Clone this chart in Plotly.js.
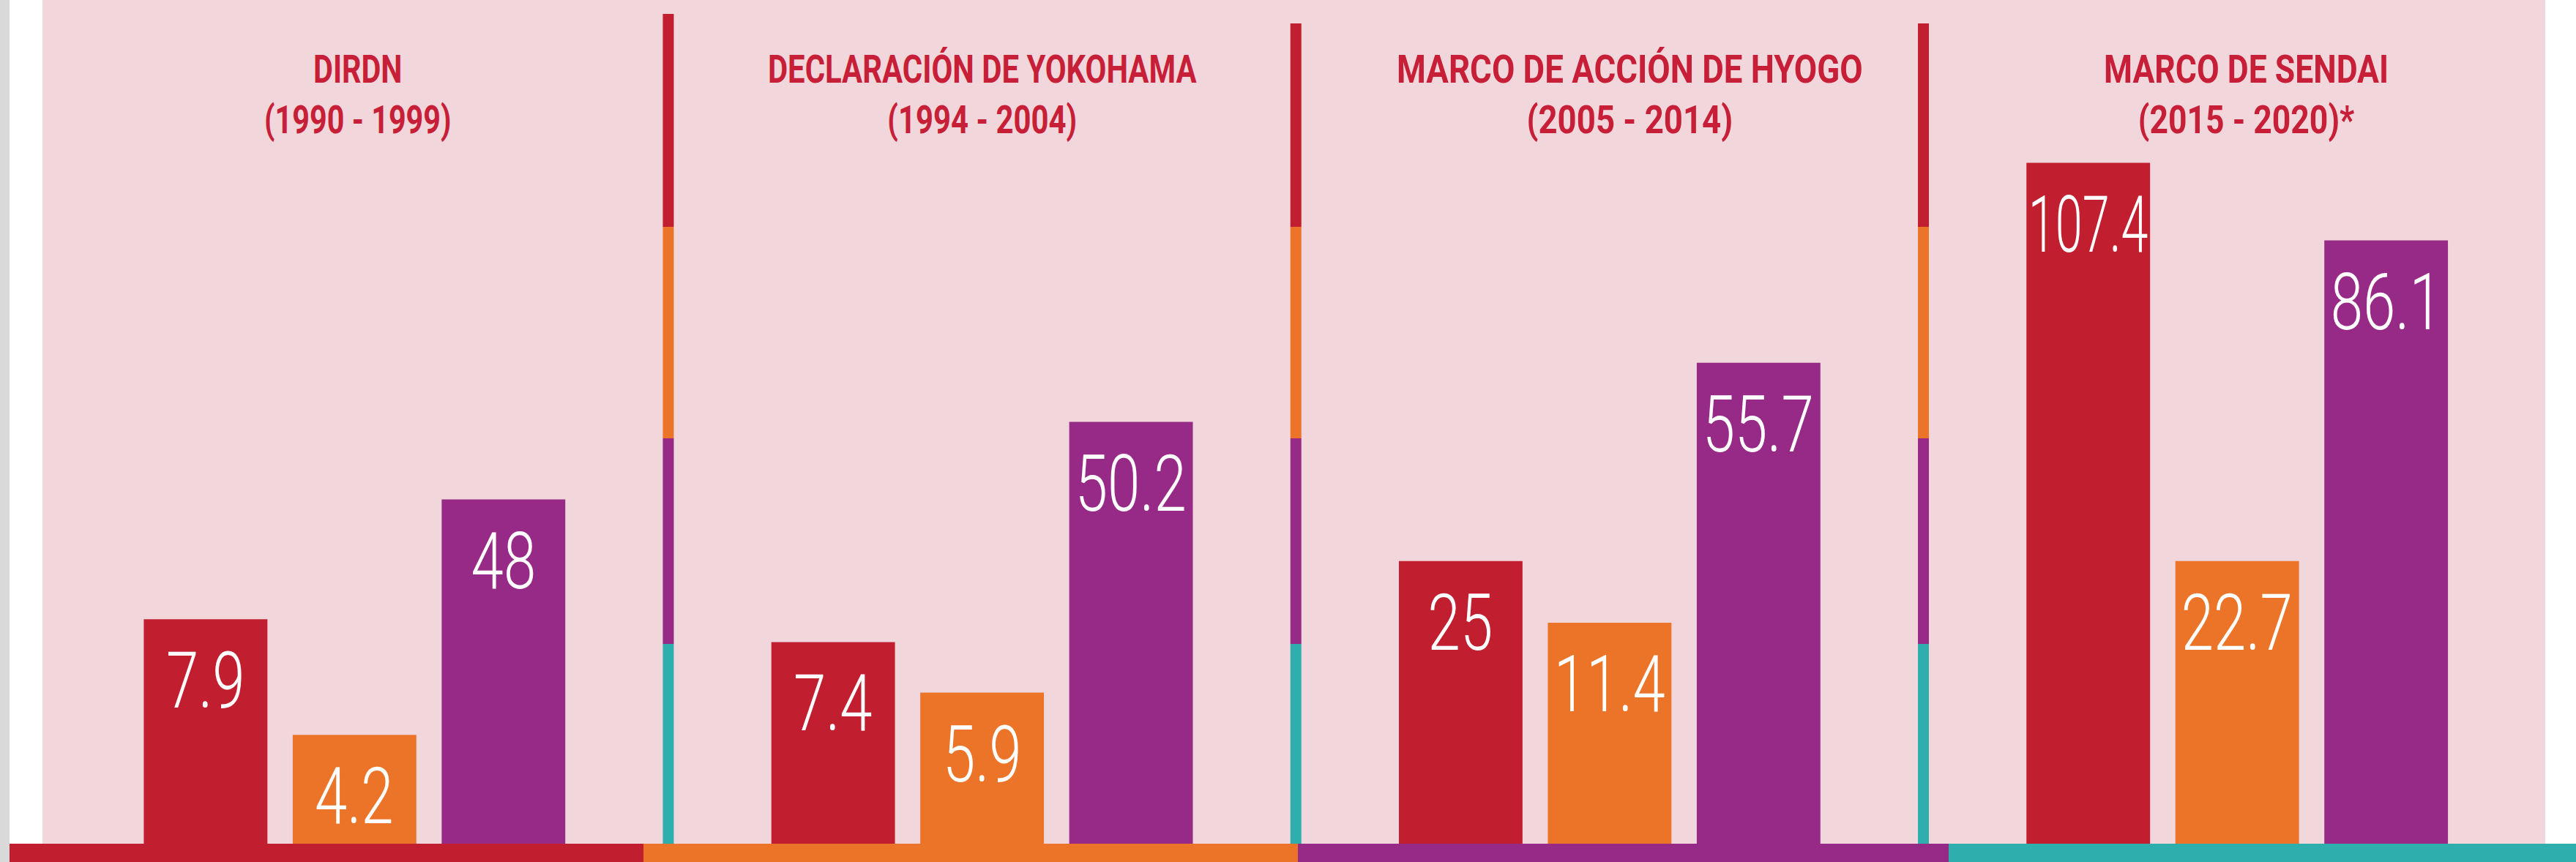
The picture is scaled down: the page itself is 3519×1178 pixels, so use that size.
<!DOCTYPE html>
<html>
<head>
<meta charset="utf-8">
<script src="https://cdn.plot.ly/plotly-3.0.1.min.js"></script>
<style>
  html, body { margin: 0; padding: 0; background: #ffffff; overflow: hidden; }
  #chart { width: 3519px; height: 1178px; }
</style>
</head>
<body>
<div id="chart"></div>
<script>
// ---------------- DATA ----------------
const frameworks = ['DIRDN', 'DECLARACIÓN DE YOKOHAMA', 'MARCO DE ACCIÓN DE HYOGO', 'MARCO DE SENDAI'];
const periods = ['(1990 - 1999)', '(1994 - 2004)', '(2005 - 2014)', '(2015 - 2020)*'];

// values printed on the bars
const redValues = [7.9, 7.4, 25, 107.4];
const orangeValues = [4.2, 5.9, 11.4, 22.7];
const purpleValues = [48, 50.2, 55.7, 86.1];

// bar heights as drawn in the infographic (% of panel height; the original is not to scale)
const redHeights = [26.6, 23.9, 33.5, 80.7];
const orangeHeights = [12.9, 17.9, 26.2, 33.5];
const purpleHeights = [40.8, 50.0, 57.0, 71.5];

// ---------------- STYLE ----------------
const RED = '#C11F2F', ORANGE = '#EC7428', PURPLE = '#982A87', TEAL = '#2FAEAE';
const PINK = '#F1D6DB', GRAY = '#D9D9D9', TITLE_RED = '#C61F37';
const BARGAP = 0.288, BARGROUPGAP = 0.17;
const slot = (1 - BARGAP) / 3;
const LABEL_FONT = { family: '"Roboto Light", Roboto, "Open Sans", sans-serif', size: 108, color: '#FFFFFF', weight: 300 };
const TITLE_FONT = { family: 'Roboto, "Open Sans", sans-serif', size: 53, color: TITLE_RED, weight: 700 };
const titleXShift = [5, 0, 28, 12];
const titleSqueeze = [0.78, 0.79, 0.86, 0.84];
const LABEL_SQUEEZE = 0.74;

const W = 3519, H = 1178;
const M = { l: 58, r: 42, t: 0, b: 25 };
const plotW = W - M.l - M.r, plotH = H - M.t - M.b;
const px2paperX = p => (p - M.l) / plotW;
const px2paperY = p => 1 - (p - M.t) / plotH;

const series = [
  { name: 'Serie 1', values: redValues, heights: redHeights, color: RED, off: -slot },
  { name: 'Serie 2', values: orangeValues, heights: orangeHeights, color: ORANGE, off: 0 },
  { name: 'Serie 3', values: purpleValues, heights: purpleHeights, color: PURPLE, off: slot }
];

const data = series.map(s => ({
  type: 'bar',
  name: s.name,
  x: frameworks,
  y: s.heights,
  customdata: s.values,
  marker: { color: s.color, line: { width: 0 } },
  hoverinfo: 'skip'
}));

const annotations = [];
const squeeze = [];
series.forEach(s => {
  s.values.forEach((v, i) => {
    annotations.push({
      xref: 'x', yref: 'y', x: i + s.off, y: s.heights[i],
      xanchor: 'center', yanchor: 'top', yshift: -19,
      text: String(v), showarrow: false, font: LABEL_FONT
    });
    squeeze.push(null);
  });
});
frameworks.forEach((f, i) => {
  annotations.push({
    xref: 'x', yref: 'paper', x: i, y: 1,
    xanchor: 'center', yanchor: 'top', yshift: -62, xshift: titleXShift[i],
    text: f + '<br>' + periods[i], showarrow: false, align: 'center', font: TITLE_FONT
  });
  squeeze.push(titleSqueeze[i]);
});

const shapes = [];
// left gray strip
shapes.push({ type: 'rect', xref: 'paper', yref: 'paper', x0: px2paperX(0), x1: px2paperX(13),
  y0: px2paperY(H), y1: 1, fillcolor: GRAY, line: { width: 0 }, layer: 'above' });
// bottom colour band
const bandEdges = [13, 879, 1773, 2662, W];
const bandColors = [RED, ORANGE, PURPLE, TEAL];
bandColors.forEach((c, i) => {
  shapes.push({ type: 'rect', xref: 'paper', yref: 'paper',
    x0: px2paperX(bandEdges[i]), x1: px2paperX(bandEdges[i + 1]),
    y0: px2paperY(H), y1: px2paperY(plotH + M.t), fillcolor: c, line: { width: 0 }, layer: 'above' });
});
// vertical segmented dividers between the frameworks
const dividerTops = [19, 32, 32];
const segEdges = [310, 599, 880, plotH];
const segColors = [RED, ORANGE, PURPLE, TEAL];
[0.5, 1.5, 2.5].forEach((xd, k) => {
  const edges = [dividerTops[k]].concat(segEdges);
  segColors.forEach((c, j) => {
    shapes.push({ type: 'line', xref: 'x', yref: 'paper', x0: xd, x1: xd,
      y0: px2paperY(edges[j + 1]), y1: px2paperY(edges[j]), line: { color: c, width: 15 }, layer: 'above' });
  });
});

const layout = {
  width: W, height: H, autosize: false,
  margin: { l: M.l, r: M.r, t: M.t, b: M.b, pad: 0 },
  paper_bgcolor: '#FFFFFF', plot_bgcolor: PINK,
  showlegend: false, hovermode: false,
  barmode: 'group', bargap: BARGAP, bargroupgap: BARGROUPGAP,
  xaxis: { type: 'category', range: [-0.4973, 3.4909], visible: false, fixedrange: true },
  yaxis: { range: [0, 100], visible: false, fixedrange: true },
  annotations: annotations,
  shapes: shapes
};

const gd = document.getElementById('chart');
Plotly.newPlot(gd, data, layout, { staticPlot: true, displayModeBar: false }).then(() => {
  const barPath = gd.querySelector('.bars .point path');
  const barPx = barPath ? barPath.getBBox().width : 168;
  gd.querySelectorAll('g.annotation').forEach(g => {
    const idx = +g.getAttribute('data-index');
    const t = g.querySelector('text.annotation-text');
    if (!t) return;
    let s = squeeze[idx];
    if (s === null) {
      const w = t.getBBox().width;
      s = Math.min(LABEL_SQUEEZE, 0.97 * barPx / w);
    }
    t.style.transformBox = 'fill-box';
    t.style.transformOrigin = 'center';
    t.style.transform = 'scaleX(' + s.toFixed(3) + ')';
  });
});
</script>
</body>
</html>
